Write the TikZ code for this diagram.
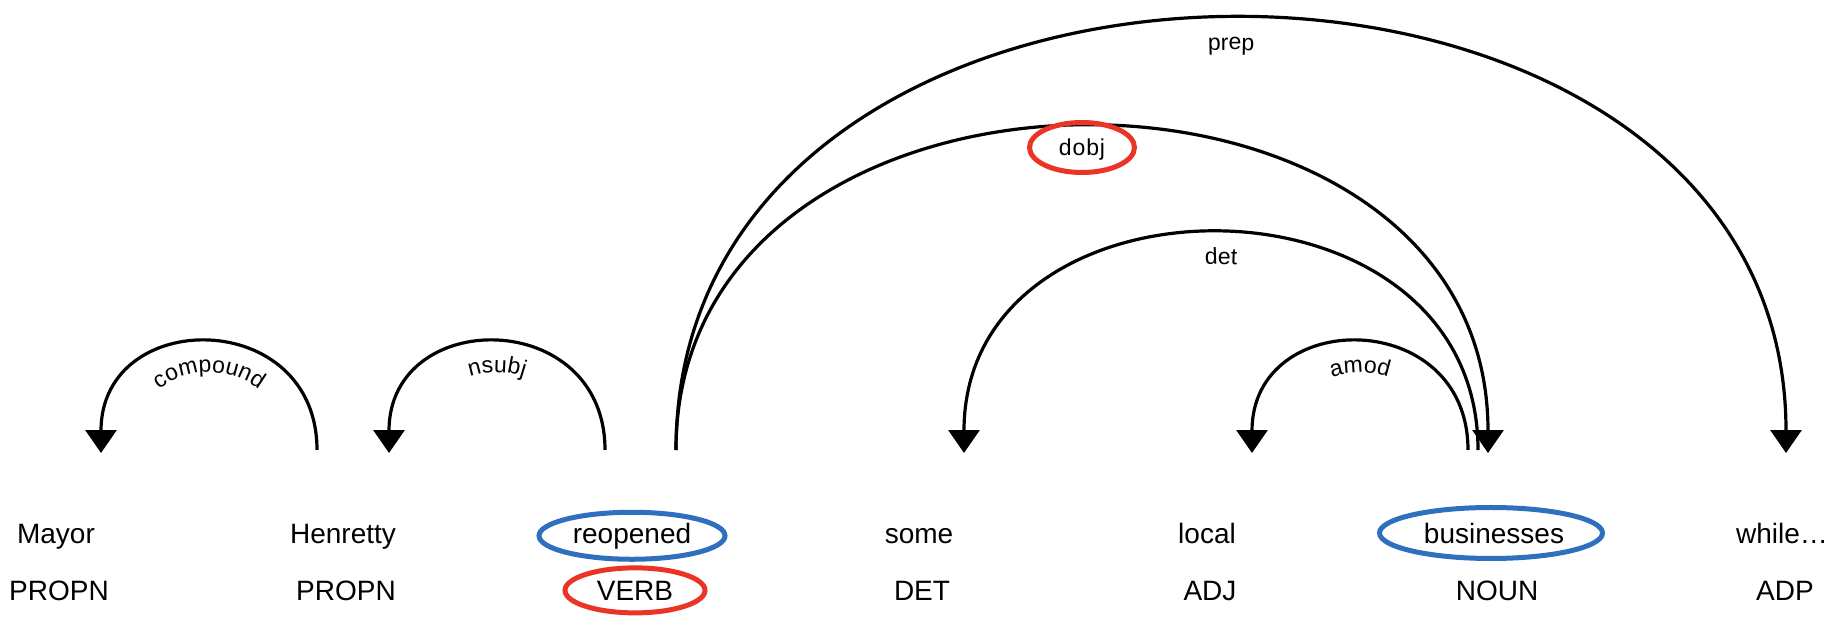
\documentclass[tikz,border=0pt]{standalone}
\usepackage{fontspec}
\setmainfont{Liberation Sans}
\usetikzlibrary{arrows.meta,decorations.text,shapes.geometric}
\definecolor{hlblue}{RGB}{46,112,189}
\definecolor{hlred}{RGB}{233,52,38}
\newcommand\wordfont{\fontsize{14}{17}\selectfont}
\newcommand\labfont{\fontsize{11.5}{13}\selectfont\addfontfeature{LetterSpace=4}}
\tikzset{
  word/.style={font=\wordfont, anchor=base, inner sep=0pt},
  deparrow/.style={line width=1.6pt, -{Triangle[length=11.5pt,width=15.5pt]}},
  arclab/.style={decorate, decoration={text along path, text align=center}},
  ringblue/.style={draw=hlblue, line width=2.5pt},
  ringred/.style={draw=hlred, line width=2.5pt},
}
\begin{document}
\begin{tikzpicture}[x=0.5pt,y=-0.5pt]
\useasboundingbox (0,0) rectangle (1832,626);

% words and tags
\foreach \i/\w/\t/\x in {0/Mayor/PROPN/56, 1/Henretty/PROPN/343, 2/reopened/VERB/632,
    3/some/DET/919, 4/local/ADJ/1207, 5/businesses/NOUN/1494, 6/while\ldots/ADP/1782}{
    \node[word] (w\i) at (\x,543) {\w};
    \node[word] (t\i) at (\x+3,600) {\t};
}

% arc feet
\coordinate (compS) at (317,450);  \coordinate (compE) at (101,453);
\coordinate (nsubjS) at (605,450); \coordinate (nsubjE) at (389,453);
\coordinate (reoS) at (676,450);
\coordinate (prepE) at (1786,453);
\coordinate (dobjE) at (1488,453);
\coordinate (detS) at (1478,450);  \coordinate (detE) at (964,453);
\coordinate (amodS) at (1468,450); \coordinate (amodE) at (1252,453);

\foreach \s/\e/\h in {compS/compE/306.5, nsubjS/nsubjE/306.5, reoS/prepE/-125,
    reoS/dobjE/19.5, detS/detE/161, amodS/amodE/306.5}{
    \draw[deparrow] (\s) .. controls (\s |- 0,\h) and (\e |- 0,\h) .. (\e);
}

% labels, set on a curve just inside each arc
\path[arclab, decoration={text={|\labfont|compound}}] (131,452) .. controls (131,346) and (287,346) .. (287,452);
\path[arclab, decoration={text={|\labfont|nsubj}}] (419,452) .. controls (419,346) and (575,346) .. (575,452);
\path[arclab, decoration={text={|\labfont|prep}}] (706,452) .. controls (706,-84) and (1756,-84) .. (1756,452);
\path[arclab, decoration={text={|\labfont|det}}] (994,452) .. controls (994,202) and (1448,202) .. (1448,452);
\path[arclab, decoration={text={|\labfont|amod}}] (1282,452) .. controls (1282,346) and (1438,346) .. (1438,452);
\node[ringred, ellipse, minimum width=52.5pt, minimum height=25pt, inner sep=0pt,
    text depth=0pt, font=\labfont] (dobjlab) at (1082,147.5) {dobj};

% highlights
\draw[ringblue] (w2.center) ellipse (46.5pt and 11.75pt);
\draw[ringblue] ([xshift=-1.5pt]w5.center) ellipse (55.75pt and 12.75pt);
\draw[ringred] (t2.center) ellipse (35pt and 11.25pt);
\end{tikzpicture}
\end{document}
